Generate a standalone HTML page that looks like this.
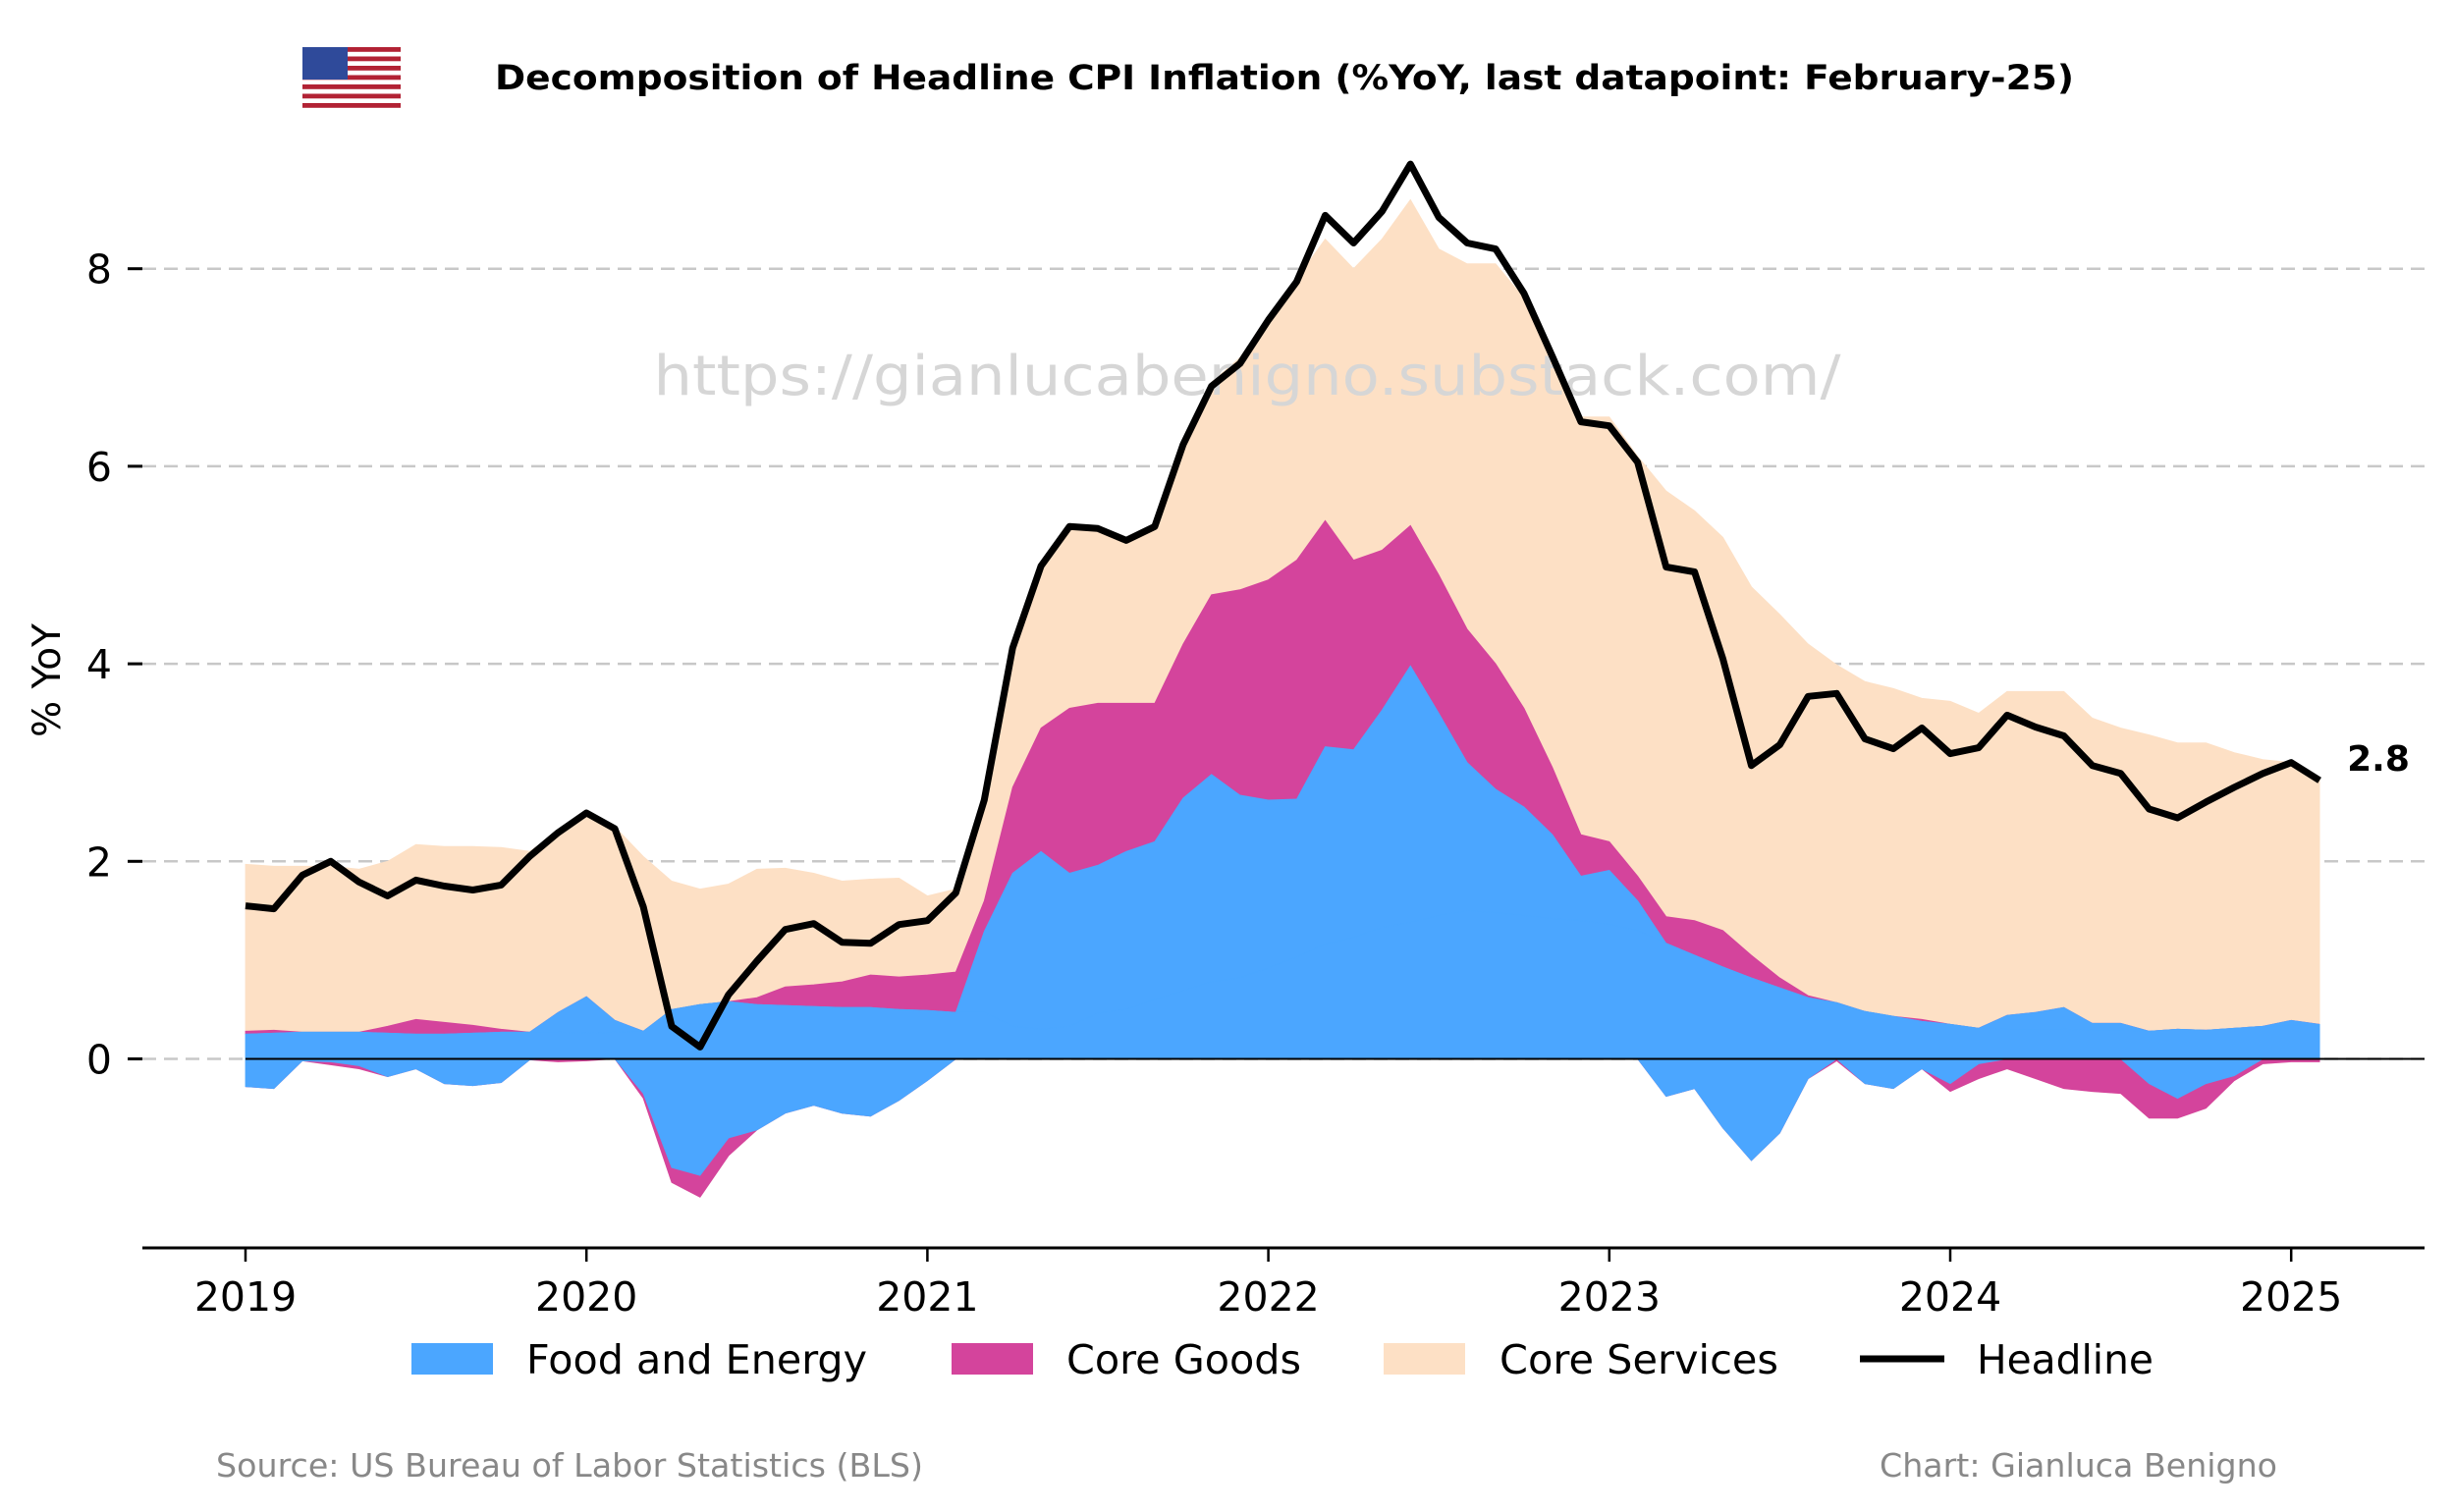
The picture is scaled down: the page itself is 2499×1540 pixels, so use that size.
<!DOCTYPE html>
<html><head><meta charset="utf-8"><style>
html,body{margin:0;padding:0;background:#fff;}
svg{display:block;font-family:"DejaVu Sans","Liberation Sans",sans-serif;}
</style></head><body>
<svg id="chart" width="2499" height="1540" viewBox="0 0 2499 1540" xmlns="http://www.w3.org/2000/svg">
  <g>
    <rect x="308" y="48" width="100" height="62" fill="#fff"/>
    <g fill="#b22234">
      <rect x="308" y="48" width="100" height="4.8"/><rect x="308" y="57.5" width="100" height="4.8"/>
      <rect x="308" y="67" width="100" height="4.8"/><rect x="308" y="76.5" width="100" height="4.8"/>
      <rect x="308" y="86" width="100" height="4.8"/><rect x="308" y="95.5" width="100" height="4.8"/>
      <rect x="308" y="105" width="100" height="4.8"/>
    </g>
    <rect x="308" y="48" width="46" height="33" fill="#2f4a9a"/>
  </g>
  <text x="504" y="91" font-size="35" font-weight="bold" textLength="1608" lengthAdjust="spacingAndGlyphs">Decomposition of Headline CPI Inflation (%YoY, last datapoint: February-25)</text>
  <g id="grid"></g>
  <g id="areas"></g>
  <text x="1270" y="402" font-size="56" fill="#d6d6d6" text-anchor="middle" textLength="1209" lengthAdjust="spacingAndGlyphs">https://gianlucabenigno.substack.com/</text>
  <g id="lines"></g>
  <g id="axes"></g>
  <text transform="translate(61,693) rotate(-90)" font-size="39" text-anchor="middle">% YoY</text>
  <g>
    <rect x="419" y="1368" width="83" height="32" fill="#4ba6ff"/>
    <text x="536" y="1399" font-size="41" textLength="347" lengthAdjust="spacingAndGlyphs">Food and Energy</text>
    <rect x="969" y="1368" width="83" height="32" fill="#d4449c"/>
    <text x="1086" y="1399" font-size="41" textLength="239" lengthAdjust="spacingAndGlyphs">Core Goods</text>
    <rect x="1409" y="1368" width="83" height="32" fill="#fde0c5"/>
    <text x="1527" y="1399" font-size="41" textLength="284" lengthAdjust="spacingAndGlyphs">Core Services</text>
    <line x1="1894" y1="1384" x2="1980" y2="1384" stroke="#000" stroke-width="7"/>
    <text x="2013" y="1399" font-size="41" textLength="180" lengthAdjust="spacingAndGlyphs">Headline</text>
  </g>
  <text x="220" y="1504" font-size="33" fill="#888" textLength="720" lengthAdjust="spacingAndGlyphs">Source: US Bureau of Labor Statistics (BLS)</text>
  <text x="1914" y="1504" font-size="33" fill="#888" textLength="405" lengthAdjust="spacingAndGlyphs">Chart: Gianluca Benigno</text>
</svg>
<script>
const yearTicks = ["2019","2020","2021","2022","2023","2024","2025"];
const yTicks = [0,2,4,6,8];
const headline = [1.55,1.52,1.86,2.0,1.79,1.65,1.81,1.75,1.71,1.76,2.05,2.29,
2.49,2.33,1.54,0.33,0.12,0.65,0.99,1.31,1.37,1.18,1.17,1.36,
1.4,1.68,2.62,4.16,4.99,5.39,5.37,5.25,5.39,6.22,6.81,7.04,
7.48,7.87,8.54,8.26,8.58,9.06,8.52,8.26,8.2,7.75,7.11,6.45,
6.41,6.04,4.98,4.93,4.05,2.97,3.18,3.67,3.7,3.24,3.14,3.35,
3.09,3.15,3.48,3.36,3.27,2.97,2.89,2.53,2.44,2.6,2.75,2.89,
3.0,2.82];
const food = [0.25,0.26,0.27,0.27,0.27,0.26,0.25,0.25,0.26,0.27,0.27,0.27,
0.26,0.27,0.28,0.5,0.55,0.58,0.55,0.54,0.53,0.52,0.52,0.5,
0.49,0.47,0.47,0.33,0.3,0.33,0.46,0.5,0.6,0.69,0.78,0.82,
0.92,1.03,1.16,1.23,1.33,1.38,1.45,1.5,1.48,1.45,1.42,1.4,
1.36,1.3,1.17,1.05,0.93,0.82,0.72,0.62,0.55,0.48,0.43,0.38,
0.35,0.31,0.3,0.3,0.3,0.29,0.29,0.28,0.3,0.29,0.31,0.33,
0.34,0.33];
const energy = [-0.28,-0.3,-0.02,-0.03,-0.07,-0.18,-0.1,-0.25,-0.27,-0.24,-0.01,0.2,
0.37,0.12,-0.35,-1.1,-1.18,-0.8,-0.72,-0.55,-0.47,-0.55,-0.58,-0.42,
-0.22,0.0,0.82,1.55,1.8,1.55,1.5,1.6,1.6,1.95,2.1,1.85,
1.7,1.6,2.0,1.9,2.2,2.6,2.05,1.5,1.25,1.1,0.85,0.45,
0.55,0.3,-0.38,-0.3,-0.7,-1.03,-0.75,-0.2,0.02,-0.25,-0.3,-0.1,
-0.25,-0.05,0.14,0.17,0.22,0.07,0.07,-0.25,-0.4,-0.25,-0.17,0.0,
0.05,0.02];
const coreGoods = [0.03,0.03,0.0,-0.03,-0.03,0.07,0.15,0.12,0.08,0.03,0.0,-0.03,
-0.02,0.0,-0.05,-0.15,-0.22,-0.18,0.07,0.19,0.22,0.26,0.33,0.33,
0.36,0.41,0.31,0.87,1.25,1.67,1.64,1.5,1.4,1.56,1.82,2.08,
2.23,2.42,2.29,1.92,1.62,1.42,1.4,1.35,1.27,1.0,0.68,0.42,
0.29,0.25,0.27,0.35,0.37,0.23,0.1,0.02,-0.02,0.0,0.0,0.02,
-0.08,-0.15,-0.1,-0.2,-0.3,-0.33,-0.35,-0.35,-0.2,-0.25,-0.05,-0.05,
-0.03,-0.03];
const coreServices = [1.69,1.66,1.68,1.68,1.65,1.67,1.77,1.78,1.81,1.84,1.83,1.83,
1.87,1.96,1.77,1.3,1.17,1.19,1.3,1.2,1.13,1.02,0.97,1.0,
0.8,0.84,1.05,1.43,1.65,1.85,1.78,1.68,1.8,2.05,2.15,2.35,
2.65,2.85,2.85,2.95,3.15,3.3,3.3,3.7,4.05,4.15,4.15,4.23,
4.3,4.25,4.31,4.15,3.98,3.73,3.68,3.56,3.42,3.34,3.32,3.25,
3.27,3.19,3.28,3.25,3.2,3.09,2.99,3.0,2.9,2.91,2.79,2.7,
2.61,2.5];

const NS = "http://www.w3.org/2000/svg";
const X0 = 250, MONTH = 347.2/12, Y0 = 1078.5, UNIT = 100.6;
const xs = i => X0 + i * MONTH;
const ys = v => Y0 - v * UNIT;
function mk(tag, attrs, parent){ const e = document.createElementNS(NS, tag); for (const k in attrs) e.setAttribute(k, attrs[k]); parent.appendChild(e); return e; }

const grid = document.getElementById('grid');
yTicks.forEach(t => {
  const g = mk('line', {x1:145, x2:2469, y1:ys(t), y2:ys(t), stroke:'#c8c8c8', 'stroke-width':2.5, 'stroke-dasharray':'14,8'}, grid);
  
  
});

const areas = document.getElementById('areas');
const series = [
  {name:'food', vals:food, color:'#4ba6ff'},
  {name:'energy', vals:energy, color:'#4ba6ff'},
  {name:'core-goods', vals:coreGoods, color:'#d4449c'},
  {name:'core-services', vals:coreServices, color:'#fde0c5'}
];
const n = headline.length;
const posBase = new Array(n).fill(0), negBase = new Array(n).fill(0);
const layers = [];
series.forEach(s => {
  const pl = [], pu = [], nl = [], nu = [];
  for (let i = 0; i < n; i++) {
    const v = s.vals[i];
    const p = Math.max(v, 0), q = Math.min(v, 0);
    pl.push(posBase[i]); pu.push(posBase[i] + p); posBase[i] += p;
    nu.push(negBase[i]); nl.push(negBase[i] + q); negBase[i] += q;
  }
  layers.push({s, pl, pu, nl, nu});
});
[3,2,1,0].forEach(idx => {
  const L = layers[idx];
  ['pos','neg'].forEach(kind => {
    const up = kind === 'pos' ? L.pu : L.nu, lo = kind === 'pos' ? L.pl : L.nl;
    let d = '';
    for (let i = 0; i < n; i++) d += (i ? 'L' : 'M') + xs(i).toFixed(1) + ',' + ys(up[i]).toFixed(1);
    for (let i = n - 1; i >= 0; i--) d += 'L' + xs(i).toFixed(1) + ',' + ys(lo[i]).toFixed(1);
    const p = mk('path', {d: d + 'Z', fill: L.s.color, stroke: L.s.color, 'stroke-width': 0.8}, areas);
    
    
  });
});

const lines = document.getElementById('lines');
const zl = mk('line', {x1:X0, x2:2469, y1:ys(0), y2:ys(0), stroke:'#000', 'stroke-width':2}, lines);


let hd = '';
headline.forEach((v, i) => { hd += (i ? 'L' : 'M') + xs(i).toFixed(1) + ',' + ys(v).toFixed(1); });
const hl = mk('path', {d: hd, fill:'none', stroke:'#000', 'stroke-width':7, 'stroke-linejoin':'round'}, lines);


const last = headline[n - 1];
const lbl = mk('text', {x: xs(n - 1) + 28, y: ys(last) - 10, 'font-size': 36, 'font-weight': 'bold'}, lines);
lbl.textContent = last.toFixed(1);



const axes = document.getElementById('axes');
const sp = mk('line', {x1:145, x2:2469, y1:1271, y2:1271, stroke:'#000', 'stroke-width':3}, axes);


yearTicks.forEach((t, k) => {
  const x = xs(k * 12);
  const tk = mk('line', {x1:x, x2:x, y1:1271, y2:1285, stroke:'#000', 'stroke-width':2.5}, axes);
  
  
  const tx = mk('text', {x:x, y:1335, 'font-size':41, 'text-anchor':'middle'}, axes);
  tx.textContent = t;
  
  
});
yTicks.forEach(t => {
  const y = ys(t);
  const tk = mk('line', {x1:130, x2:145, y1:y, y2:y, stroke:'#000', 'stroke-width':3}, axes);
  
  
  const tx = mk('text', {x:114, y:y + 15, 'font-size':41, 'text-anchor':'end'}, axes);
  tx.textContent = String(t);
  
  
});
</script>
</body></html>
